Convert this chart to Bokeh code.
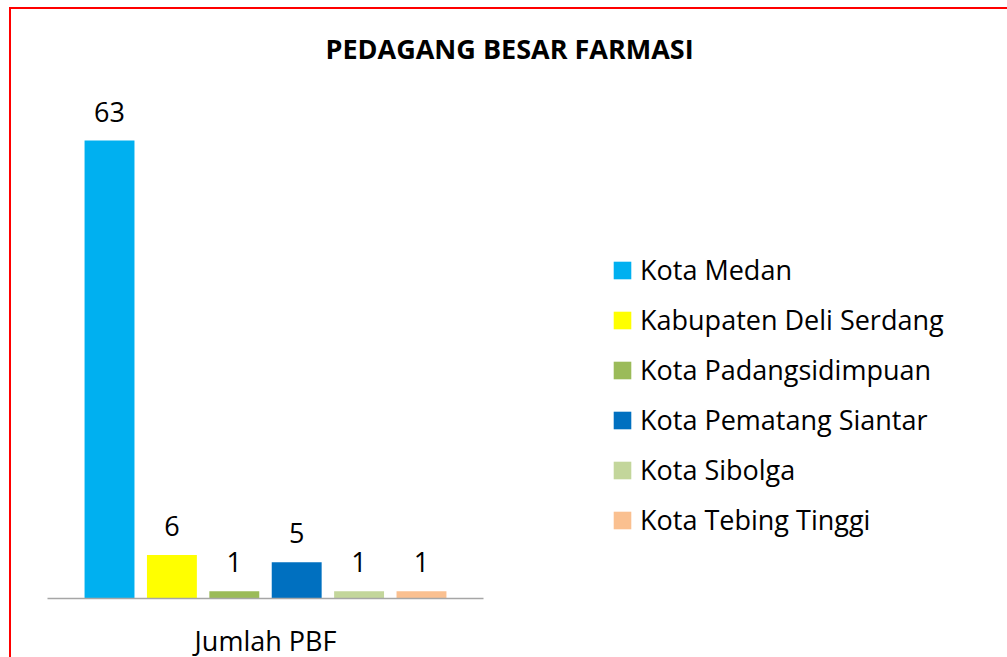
from bokeh.plotting import figure
from bokeh.models import ColumnDataSource, Range1d, Legend, LegendItem, Title, FixedTicker
from bokeh.core.properties import value
from bokeh.embed import file_html
from bokeh.resources import INLINE

categories = ["Kota Medan", "Kabupaten Deli Serdang", "Kota Padangsidimpuan",
              "Kota Pematang Siantar", "Kota Sibolga", "Kota Tebing Tinggi"]
values = [63, 6, 1, 5, 1, 1]
colors = ["#00B0F0", "#FFFF00", "#9BBB59", "#0070C0", "#C3D69B", "#FAC090"]
labels = [str(v) for v in values]
group_label = "Jumlah PBF"
title_text = "PEDAGANG BESAR FARMASI"

FONT = "Open Sans"
positions = list(range(len(categories)))

src = ColumnDataSource(dict(x=positions, top=values, color=colors, label=labels, name=categories))

p = figure(frame_width=436, frame_height=527, output_backend="svg", toolbar_location=None,
           x_range=Range1d(-0.994, len(categories) - 1 + 0.994),
           y_range=Range1d(0, 72.5),
           min_border_left=36, min_border_right=0, min_border_top=62, min_border_bottom=57)
p.styles = {"border-top": "2px solid #FF0000", "border-left": "2px solid #FF0000",
            "margin-left": "9px", "margin-top": "7px"}
p.outline_line_color = None
p.xgrid.visible = False
p.ygrid.visible = False
p.yaxis.visible = False

r = p.vbar(x="x", top="top", width=0.8, fill_color="color", line_color=None, source=src)
p.text(x="x", y="top", text="label", source=src, text_align="center",
       text_baseline="alphabetic", y_offset=-29, text_font=value(FONT),
       text_font_size="27px", text_color="#000000")

ax = p.xaxis[0]
ax.ticker = FixedTicker(ticks=[])
ax.axis_line_color = "#A6A6A6"
ax.axis_line_width = 1.5
ax.major_tick_line_color = None
ax.minor_tick_line_color = None
ax.axis_label = group_label
ax.axis_label_text_font = FONT
ax.axis_label_text_font_size = "27px"
ax.axis_label_text_font_style = "normal"
ax.axis_label_text_color = "#000000"
ax.axis_label_standoff = 23

p.title = Title(text=title_text, align="left", offset=278, text_font=FONT,
                text_font_size="27px", text_font_style="bold", text_color="#000000")

items = [LegendItem(label=c, renderers=[r], index=i) for i, c in enumerate(categories)]
legend = Legend(items=items, location=(128, 60), glyph_width=22, glyph_height=22,
                label_height=22, label_standoff=7, spacing=13, padding=0, margin=0,
                border_line_color=None, background_fill_alpha=0,
                label_text_font=FONT, label_text_font_size="27px", label_text_color="#000000")
p.add_layout(legend, "right")

open("out.html", "w").write(file_html(p, INLINE))
